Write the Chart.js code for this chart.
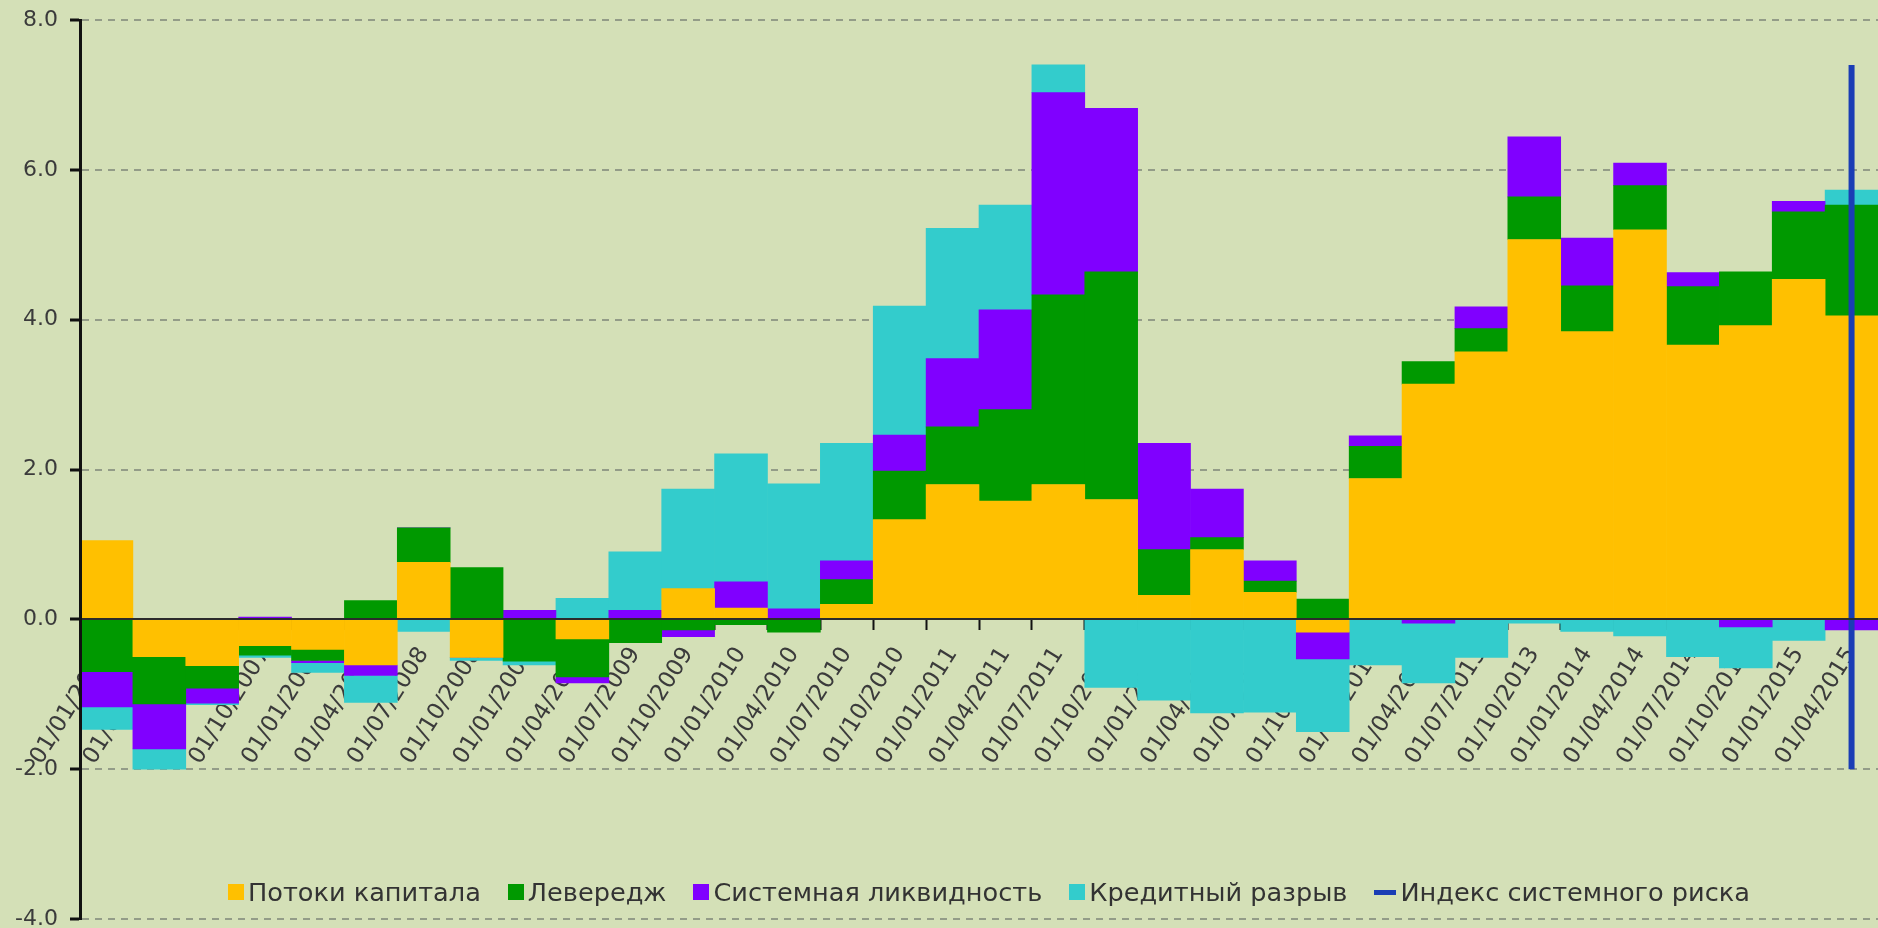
<!DOCTYPE html>
<html lang="ru">
<head>
<meta charset="utf-8">
<title>Индекс системного риска</title>
<script src="https://cdn.jsdelivr.net/npm/chart.js@4.4.1/dist/chart.umd.min.js"></script>
<style>
  html, body { margin: 0; padding: 0; background: #d4e0b7; overflow: hidden; }
  #wrap { position: relative; width: 1878px; height: 928px; }
  #legend {
    position: absolute; left: 228px; top: 877px;
    display: flex; align-items: center; white-space: nowrap;
    font-family: "DejaVu Sans"; font-size: 25.6px; color: #333;
  }
  #legend .item { display: flex; align-items: center; margin-right: 27px; }
  #legend .box { width: 16px; height: 16px; margin-right: 4px; }
  #legend .line { width: 22px; height: 5px; margin-right: 4px; }
</style>
</head>
<body>
<div id="wrap">
  <canvas id="grafico" width="1878" height="928"></canvas>
  <div id="legend"></div>
</div>
<script>
// quarters
const datas = ['01/01/2007', '01/04/2007', '01/07/2007', '01/10/2007',
  '01/01/2008', '01/04/2008', '01/07/2008', '01/10/2008',
  '01/01/2009', '01/04/2009', '01/07/2009', '01/10/2009',
  '01/01/2010', '01/04/2010', '01/07/2010', '01/10/2010',
  '01/01/2011', '01/04/2011', '01/07/2011', '01/10/2011',
  '01/01/2012', '01/04/2012', '01/07/2012', '01/10/2012',
  '01/01/2013', '01/04/2013', '01/07/2013', '01/10/2013',
  '01/01/2014', '01/04/2014', '01/07/2014', '01/10/2014',
  '01/01/2015', '01/04/2015'];

// components
const potokiKapitala = [1.05, -0.50, -0.62, -0.35, -0.40, -0.61, 0.76, -0.51,
  0, -0.26, 0, 0.41, 0.15, 0, 0.20, 1.33,
  1.80, 1.58, 1.80, 1.60, 0.32, 0.93, 0.36, -0.17,
  1.88, 3.14, 3.57, 5.07, 3.84, 5.20, 3.66, 3.92,
  4.54, 4.05];
const leveredzh = [-0.70, -0.63, -0.30, -0.13, -0.15, 0.25, 0.46, 0.69,
  -0.56, -0.51, -0.31, -0.14, -0.07, -0.17, 0.33, 0.65,
  0.77, 1.22, 2.53, 3.04, 0.61, 0.16, 0.15, 0.27,
  0.43, 0.30, 0.31, 0.57, 0.61, 0.59, 0.78, 0.72,
  0.90, 1.48];
const likvidnost = [-0.47, -0.60, -0.20, 0.03, -0.03, -0.14, 0, 0,
  0.12, -0.08, 0.12, -0.09, 0.35, 0.14, 0.25, 0.48,
  0.91, 1.33, 2.70, 2.18, 1.42, 0.65, 0.27, -0.36,
  0.14, -0.05, 0.29, 0.80, 0.64, 0.30, 0.19, -0.10,
  0.14, -0.14];
const kreditRazryv = [-0.30, -0.27, -0.02, -0.03, -0.13, -0.36, -0.16, -0.04,
  -0.05, 0.28, 0.78, 1.33, 1.71, 1.67, 1.57, 1.72,
  1.74, 1.40, 0.37, -0.91, -1.08, -1.25, -1.24, -0.97,
  -0.61, -0.80, -0.51, -0.05, -0.16, -0.22, -0.50, -0.55,
  -0.28, 0.20];

// risk index: only the last quarter, low and high
const indeksData = '01/04/2015';
const indeksValores = [-2.0, 7.4];

const fonte = { family: 'DejaVu Sans', size: 22 };
const fonteX = { family: 'DejaVu Sans', size: 23 };
const corTexto = '#3b3b3b';

const ctx = document.getElementById('grafico');

const chart = new Chart(ctx, {
  type: 'bar',
  data: {
    labels: datas,
    datasets: [
      { label: 'Потоки капитала', data: potokiKapitala, backgroundColor: '#ffc000', order: 1 },
      { label: 'Левередж', data: leveredzh, backgroundColor: '#009900', order: 1 },
      { label: 'Системная ликвидность', data: likvidnost, backgroundColor: '#8000ff', order: 1 },
      { label: 'Кредитный разрыв', data: kreditRazryv, backgroundColor: '#33cccc', order: 1 },
      {
        type: 'line', label: 'Индекс системного риска', stack: 'indeks', order: 0,
        data: indeksValores.map(v => ({ x: indeksData, y: v })),
        borderColor: '#1a3db5', backgroundColor: '#1a3db5', borderWidth: 6,
        pointRadius: 0, fill: false
      }
    ]
  },
  options: {
    responsive: false,
    animation: false,
    layout: { padding: { top: 20, bottom: 9, left: 0, right: 0 } },
    datasets: { bar: { barPercentage: 1, categoryPercentage: 1, borderWidth: 0 } },
    plugins: { legend: { display: false }, tooltip: { enabled: false } },
    scales: {
      x: {
        stacked: true,
        position: { y: 0 },
        grid: { drawOnChartArea: false, tickLength: 10, tickColor: '#111', tickWidth: 2 },
        border: { color: '#2b2b2b', width: 2, z: 1 },
        ticks: { autoSkip: false, minRotation: 58, maxRotation: 58, padding: 13, color: corTexto, font: fonteX },
        afterFit: s => { s.paddingLeft = 0; s.paddingRight = 0; }
      },
      y: {
        stacked: true,
        min: -4,
        max: 8,
        grid: { color: '#939c88', lineWidth: 2, tickLength: 10, tickColor: '#111', tickWidth: 3 },
        border: { color: '#111', width: 3, dash: [7, 6], z: 1 },
        ticks: { stepSize: 2, padding: 12, color: corTexto, font: fonte, callback: v => v.toFixed(1) },
        afterFit: s => { s.width = 80; s.paddingTop = 0; s.paddingBottom = 0; }
      }
    }
  }
});

// legend
const legenda = document.getElementById('legend');
chart.data.datasets.forEach(ds => {
  const item = document.createElement('span');
  item.className = 'item';
  const marca = document.createElement('span');
  marca.className = ds.type === 'line' ? 'line' : 'box';
  marca.style.background = ds.type === 'line' ? ds.borderColor : ds.backgroundColor;
  const texto = document.createElement('span');
  texto.textContent = ds.label;
  item.appendChild(marca);
  item.appendChild(texto);
  legenda.appendChild(item);
});
</script>
</body>
</html>
